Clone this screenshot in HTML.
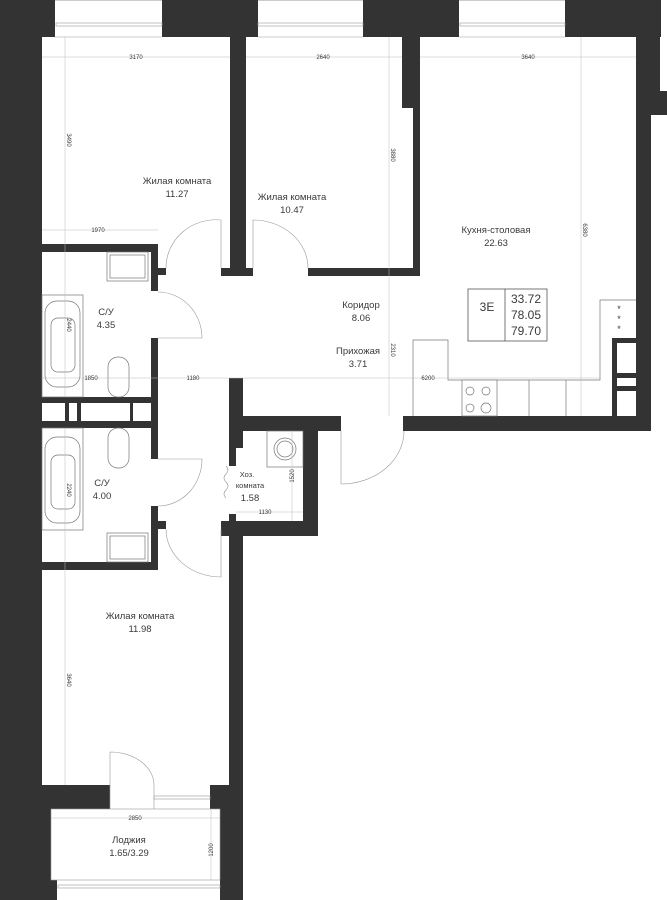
<!DOCTYPE html>
<html><head><meta charset="utf-8"><style>
html,body{margin:0;padding:0;background:#fff}
svg{display:block}
text{font-family:"Liberation Sans",sans-serif;fill:#3a3a3a}
.r{font-size:9.5px;text-anchor:middle}
.d{font-size:6px;fill:#888;text-anchor:middle}
.l{stroke:#999;stroke-width:0.6;fill:none}
.f{stroke:#777;stroke-width:0.7;fill:#fff}
.dm{stroke:#bbb;stroke-width:0.5;fill:none}
</style></head><body>
<svg width="667" height="900" viewBox="0 0 667 900" xmlns="http://www.w3.org/2000/svg">
<g fill="#333">
<rect x="0" y="0" width="42" height="900"/>
<rect x="42" y="785" width="9" height="95"/>
<rect x="0" y="0" width="55" height="37"/>
<rect x="162" y="0" width="96" height="37"/>
<rect x="363" y="0" width="96" height="37"/>
<rect x="565" y="0" width="96" height="37"/>
<rect x="636" y="37" width="24" height="54"/>
<rect x="636" y="91" width="31" height="24"/>
<rect x="636" y="115" width="15" height="316"/>
<rect x="403" y="416" width="248" height="15"/>
<rect x="230" y="37" width="16" height="238"/>
<rect x="221" y="268" width="32" height="8"/>
<rect x="402" y="37" width="18" height="71"/>
<rect x="413" y="108" width="7" height="168"/>
<rect x="308" y="268" width="112" height="8"/>
<rect x="42" y="244" width="116" height="8"/>
<rect x="151" y="244" width="7" height="47"/>
<rect x="158" y="268" width="8" height="7"/>
<rect x="151" y="338" width="7" height="60"/>
<rect x="42" y="397" width="116" height="31"/>
<rect x="151" y="428" width="7" height="31"/>
<rect x="151" y="506" width="7" height="64"/>
<rect x="158" y="521" width="8" height="8"/>
<rect x="42" y="562" width="116" height="8"/>
<rect x="229" y="378" width="14" height="70"/>
<rect x="229" y="416" width="112" height="15"/>
<rect x="229" y="448" width="7" height="18"/>
<rect x="229" y="514" width="7" height="10"/>
<rect x="303" y="431" width="15" height="105"/>
<rect x="221" y="521" width="97" height="15"/>
<rect x="229" y="521" width="14" height="379"/>
<rect x="42" y="785" width="68" height="24"/>
<rect x="210" y="785" width="33" height="24"/>
<rect x="220" y="809" width="23" height="91"/>
<rect x="0" y="880" width="57" height="20"/>
<rect x="612" y="338" width="24" height="78"/>
</g>
<g fill="#fff">
<rect x="42" y="403" width="23" height="18"/><rect x="69" y="403" width="8" height="18"/>
<rect x="81" y="403" width="49" height="18"/><rect x="133" y="403" width="18" height="18"/>
<rect x="617" y="343" width="19" height="30"/><rect x="617" y="378" width="19" height="8"/><rect x="617" y="391" width="19" height="25"/>
</g>
<g class="l">
<rect x="56" y="23" width="106" height="3"/><rect x="258" y="23" width="105" height="3"/><rect x="460" y="23" width="105" height="3"/>
<line x1="55" y1="0.5" x2="162" y2="0.5"/><line x1="258" y1="0.5" x2="363" y2="0.5"/><line x1="459" y1="0.5" x2="565" y2="0.5"/>
<line x1="55" y1="37" x2="162" y2="37"/><line x1="258" y1="37" x2="363" y2="37"/><line x1="459" y1="37" x2="565" y2="37"/>
<rect x="154" y="796" width="56" height="3"/>
<rect x="58" y="885" width="162" height="3"/>
<rect x="51" y="809" width="169" height="71"/>
<line x1="110" y1="785" x2="110" y2="809"/><line x1="154" y1="785" x2="154" y2="809"/>
</g>
<g class="l" stroke="#888">
<path d="M221 268 V220 A50 48 0 0 0 166 268"/>
<path d="M253 268 V220 A55 48 0 0 1 308 268"/>
<path d="M158 292 A44 46 0 0 1 202 338 H158"/>
<path d="M158 459 H202 A44 47 0 0 1 158 506"/>
<path d="M221 529 V577 A55 48 0 0 1 166 529"/>
<path d="M341 431 V484 A63 53 0 0 0 404 431"/>
<path d="M110 785 V752 A44 33 0 0 1 154 785"/>
<path d="M226 466 q4 4 0 8 q-4 4 0 8 q4 4 0 8 q-4 4 0 8"/>
</g>
<g class="f">
<rect x="107" y="252" width="41" height="29"/><rect x="110" y="255" width="35" height="23"/>
<rect x="107" y="533" width="41" height="29"/><rect x="110" y="536" width="35" height="23"/>
<rect x="42" y="295" width="41" height="102"/><rect x="45" y="301" width="35" height="86" rx="12"/><rect x="51" y="318" width="24" height="54" rx="7"/>
<rect x="42" y="428" width="41" height="102"/><rect x="45" y="437" width="35" height="86" rx="12"/><rect x="51" y="455" width="24" height="54" rx="7"/>
<rect x="108" y="357" width="21" height="40" rx="10"/><rect x="108" y="428" width="21" height="40" rx="10"/>
<rect x="267" y="431" width="36" height="36"/><circle cx="285" cy="449" r="11"/><circle cx="285" cy="449" r="8"/>
<path d="M413 416 V340 H448 V380 H600 V300 H636"/>
<rect x="462" y="380" width="35" height="36"/>
<circle cx="470" cy="391" r="4"/><circle cx="486" cy="391" r="4"/><circle cx="470" cy="408" r="4"/><circle cx="486" cy="408" r="5"/>
<line x1="529" y1="380" x2="529" y2="416"/><line x1="566" y1="380" x2="566" y2="416"/>
</g>
<rect x="468" y="289" width="79" height="52" fill="#fff" stroke="#555" stroke-width="0.8"/>
<line x1="505" y1="289" x2="505" y2="341" stroke="#555" stroke-width="0.8"/>
<text x="487" y="311" style="font-size:12px;text-anchor:middle">3E</text>
<text x="526" y="303" style="font-size:12px;text-anchor:middle">33.72</text>
<text x="526" y="319" style="font-size:12px;text-anchor:middle">78.05</text>
<text x="526" y="335" style="font-size:12px;text-anchor:middle">79.70</text>
<text x="619" y="312" class="r" style="font-size:9px">*</text>
<text x="619" y="322" class="r" style="font-size:9px">*</text>
<text x="619" y="332" class="r" style="font-size:9px">*</text>
<g class="dm">
<line x1="42" y1="57" x2="230" y2="57"/><line x1="246" y1="57" x2="402" y2="57"/><line x1="420" y1="57" x2="636" y2="57"/>
<line x1="42" y1="230" x2="158" y2="230"/><line x1="42" y1="378" x2="600" y2="378"/>
<line x1="65" y1="37" x2="65" y2="397"/><line x1="65" y1="428" x2="65" y2="785"/>
<line x1="389" y1="37" x2="389" y2="416"/><line x1="581" y1="37" x2="581" y2="416"/>
<line x1="292" y1="431" x2="292" y2="521"/><line x1="236" y1="512" x2="303" y2="512"/>
<line x1="51" y1="818" x2="220" y2="818"/><line x1="211" y1="809" x2="211" y2="880"/>
</g>
<g class="d">
<text x="136" y="59">3170</text><text x="323" y="59">2640</text><text x="528" y="59">3640</text>
<text x="98" y="232">1970</text><text x="91" y="380">1850</text><text x="193" y="380">1180</text><text x="428" y="380">6200</text>
<text x="265" y="514">1130</text><text x="135" y="820">2850</text>
<text transform="translate(67,140) rotate(90)">3490</text>
<text transform="translate(67,325) rotate(90)">2440</text>
<text transform="translate(67,490) rotate(90)">2240</text>
<text transform="translate(67,680) rotate(90)">3640</text>
<text transform="translate(391,155) rotate(90)">3880</text>
<text transform="translate(391,350) rotate(90)">2310</text>
<text transform="translate(583,230) rotate(90)">6380</text>
<text transform="translate(294,476) rotate(-90)">1520</text>
<text transform="translate(213,850) rotate(-90)">1200</text>
</g>
<g class="r">
<text x="177" y="184">Жилая комната</text><text x="177" y="197">11.27</text>
<text x="292" y="200">Жилая комната</text><text x="292" y="213">10.47</text>
<text x="496" y="233">Кухня-столовая</text><text x="496" y="246">22.63</text>
<text x="361" y="308">Коридор</text><text x="361" y="321">8.06</text>
<text x="358" y="354">Прихожая</text><text x="358" y="367">3.71</text>
<text x="106" y="315">С/У</text><text x="106" y="328">4.35</text>
<text x="102" y="486">С/У</text><text x="102" y="499">4.00</text>
<text x="140" y="619">Жилая комната</text><text x="140" y="632">11.98</text>
<text x="129" y="843">Лоджия</text><text x="129" y="856">1.65/3.29</text>
<text x="247" y="477" style="font-size:7.5px">Хоз.</text>
<text x="250" y="488" style="font-size:7.5px">комната</text>
<text x="250" y="501">1.58</text>
</g>
</svg>
</body></html>
